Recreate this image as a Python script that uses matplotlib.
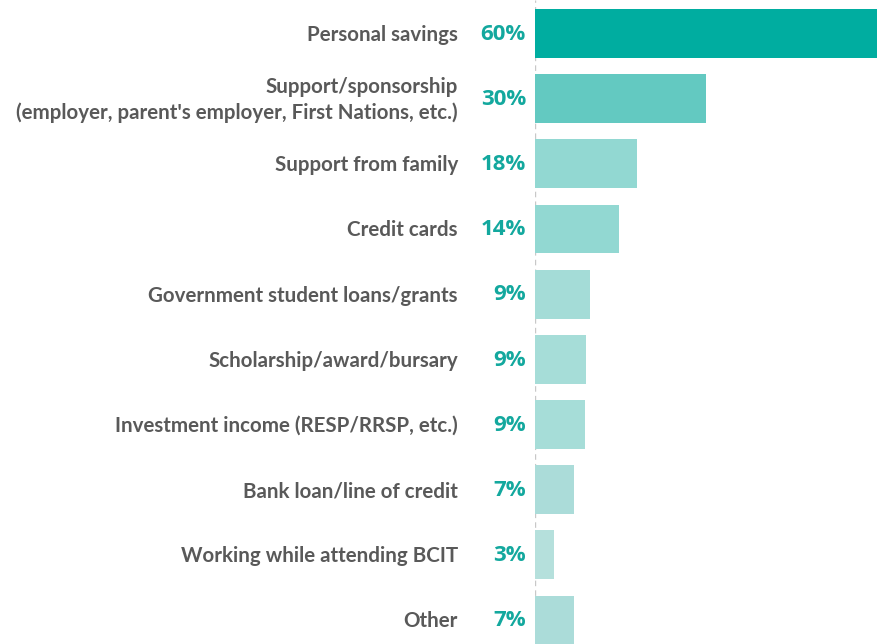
import matplotlib
matplotlib.use("Agg")
import matplotlib.pyplot as plt

# data (bar lengths in %, shown labels)
categories = [
    "Personal savings",
    "Support/sponsorship\n(employer, parent's employer, First Nations, etc.)",
    "Support from family",
    "Credit cards",
    "Government student loans/grants",
    "Scholarship/award/bursary",
    "Investment income (RESP/RRSP, etc.)",
    "Bank loan/line of credit",
    "Working while attending BCIT",
    "Other",
]
values = [60, 30, 17.8, 14.7, 9.6, 8.9, 8.7, 6.8, 3.3, 6.8]
value_labels = ["60%", "30%", "18%", "14%", "9%", "9%", "9%", "7%", "3%", "7%"]

colors = ["#00ADA0", "#63C9C1", "#92D8D2", "#92D8D2", "#A4DCD7",
          "#A6DDD8", "#A6DDD8", "#ABDCD9", "#B5E0DC", "#ABDCD9"]

fig = plt.figure(figsize=(8.78, 6.44), dpi=100)
ax = fig.add_axes([535 / 878, 0, 343 / 878, 1])

pos = list(range(len(values)))
ax.barh(pos, values, height=0.75, color=colors, zorder=2)
ax.set_xlim(0, 60)
ax.set_ylim(9 + 24 / 65.2, -33.5 / 65.2)
ax.axvline(0, color="#C8C8C8", lw=1, ls=(0, (4, 3)), zorder=1)

for s in ax.spines.values():
    s.set_visible(False)
ax.set_xticks([])
ax.set_yticks([])

for i, (cat, lab) in enumerate(zip(categories, value_labels)):
    ax.annotate(lab, (0, i), xytext=(-6.5, -0.5), textcoords="offset points",
                ha="right", va="center", fontsize=16, fontweight="bold",
                color="#13A89E", family="Open Sans")
    ax.annotate(cat, (0, i), xytext=(-55.5, -1), textcoords="offset points",
                ha="right", va="center", fontsize=14.8, fontweight="bold",
                color="#595959", family="Lato", linespacing=1.3)

fig.savefig("out.png", dpi=100)
